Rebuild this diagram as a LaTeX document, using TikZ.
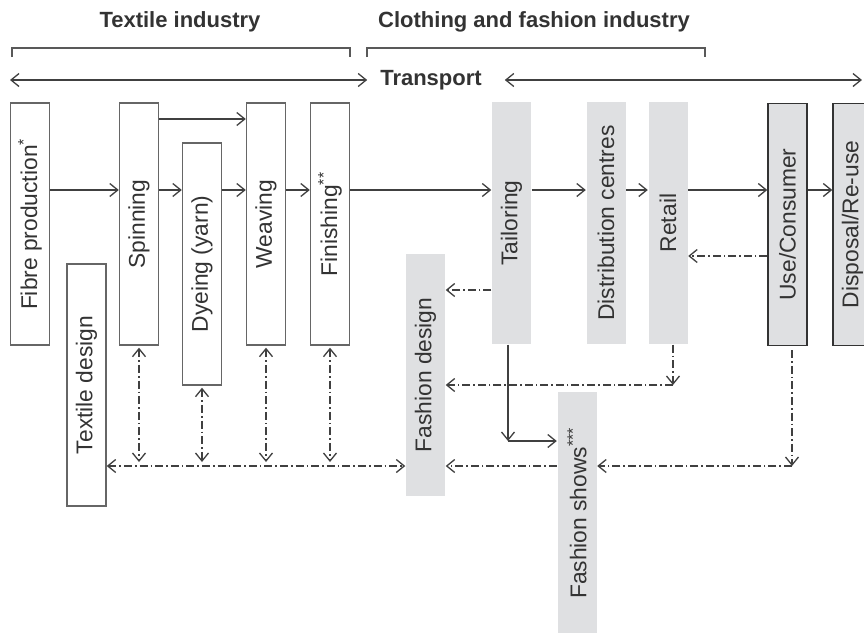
\documentclass[tikz,border=0pt]{standalone}
\usepackage{fontspec}
\setmainfont{Liberation Sans}
\usepackage{graphicx}
\usetikzlibrary{arrows.meta}

\definecolor{shade}{HTML}{DFE0E2}
\definecolor{ink}{HTML}{333333}

\newcommand{\boxfont}{\fontsize{11.4}{13}\selectfont}
\newcommand{\headfont}{\fontsize{11}{13}\selectfont\bfseries}

\tikzset{
  stage/.style={draw=black!60, line width=0.7pt, minimum width=19.5pt,
    minimum height=121pt, inner sep=0pt, text=ink, font=\boxfont},
  fashion/.style={stage, draw=none, fill=shade},
  enduse/.style={stage, draw=black!80, fill=shade},
  head/.style={text=ink, font=\headfont},
  bracket/.style={draw=black!65, line width=0.6pt},
  flow/.style={->, draw=black!75, line width=0.65pt},
  link/.style={flow, dash pattern=on 4pt off 1.5pt on 0.8pt off 1.5pt}
}

\begin{document}
\begin{tikzpicture}[x=0.5pt,y=-0.5pt,>={Straight Barb[length=4pt,width=6.5pt]}]
\useasboundingbox (0,0) rectangle (864,633);

\node[head] (texind) at (180,22) {Textile industry};
\node[head] (cloind) at (534,22) {Clothing and fashion industry};
\draw[bracket] (12,57) -- (12,48) -- (350,48) -- (350,57);
\draw[bracket] (367,57) -- (367,48) -- (705,48) -- (705,57);

\node[head] (transport) at (431,80) {Transport};
\coordinate (tleft) at (10,80);
\coordinate (tright) at (862,80);
\draw[flow,<->] (tleft) -- ([xshift=-3pt]transport.west);
\draw[flow,<->] ([xshift=8pt]transport.east) -- (tright);

\node[stage] (fibre) at (30,224) {\rotatebox{90}{Fibre production\textsuperscript{*}}};
\node[stage] (texdes) at (86.5,385) {\rotatebox{90}{Textile design}};
\node[stage] (spin) at (139,224) {\rotatebox{90}{Spinning}};
\node[stage] (dye) at (202,264) {\rotatebox{90}{Dyeing (yarn)}};
\node[stage] (weave) at (266,224) {\rotatebox{90}{Weaving}};
\node[stage] (finish) at (330,224) {\rotatebox{90}{Finishing\textsuperscript{**}}};
\node[fashion] (fasdes) at (425.5,375) {\rotatebox{90}{Fashion design}};
\node[fashion] (tailor) at (511.5,223) {\rotatebox{90}{Tailoring}};
\node[fashion] (distrib) at (606,223) {\rotatebox{90}{Distribution centres}};
\node[fashion] (retail) at (668,223) {\rotatebox{90}{Retail}};
\node[fashion] (shows) at (577,513) {\rotatebox{90}{Fashion shows\textsuperscript{***}}};
\node[enduse] (user) at (787.5,224.5) {\rotatebox{90}{Use/Consumer}};
\node[enduse] (dispose) at (852.5,224.5) {\rotatebox{90}{Disposal/Re-use}};

\coordinate (main) at (0,190);
\coordinate (upper) at (0,119);
\draw[flow] (fibre.east |- main) -- (spin.west |- main);
\draw[flow] (spin.east |- main) -- (dye.west |- main);
\draw[flow] (spin.east |- upper) -- (weave.west |- upper);
\draw[flow] (dye.east |- main) -- (weave.west |- main);
\draw[flow] (weave.east |- main) -- (finish.west |- main);
\draw[flow] (finish.east |- main) -- (tailor.west |- main);
\draw[flow] (tailor.east |- main) -- (distrib.west |- main);
\draw[flow] (distrib.east |- main) -- (retail.west |- main);
\draw[flow] (retail.east |- main) -- (user.west |- main);
\draw[flow] (user.east |- main) -- (dispose.west |- main);

\coordinate (tcorner) at (508,441);
\draw[flow] (tailor.south -| tcorner) -- (tcorner);
\draw[flow] (tcorner) -- (shows.west |- tcorner);

\draw[link] (tailor.west |- 0,290) -- (fasdes.east |- 0,290);
\draw[link] (user.west |- 0,256) -- (retail.east |- 0,256);
\coordinate (rcorner) at (673,385);
\draw[link] (retail.south -| rcorner) -- (rcorner);
\draw[link] (rcorner) -- (fasdes.east |- rcorner);
\coordinate (ucorner) at (792,466);
\draw[link] ([yshift=-2pt]user.south -| ucorner) -- (ucorner);
\draw[link] (ucorner) -- (shows.east |- ucorner);
\draw[link] (shows.west |- ucorner) -- (fasdes.east |- ucorner);

\coordinate (design) at (0,466);
\draw[link,<->] (texdes.east |- design) -- (fasdes.west |- design);
\foreach \n in {spin,dye,weave,finish}
  \draw[link,<->] ([yshift=-1pt]\n.south) -- ([yshift=2pt]\n.south |- design);
\end{tikzpicture}
\end{document}
